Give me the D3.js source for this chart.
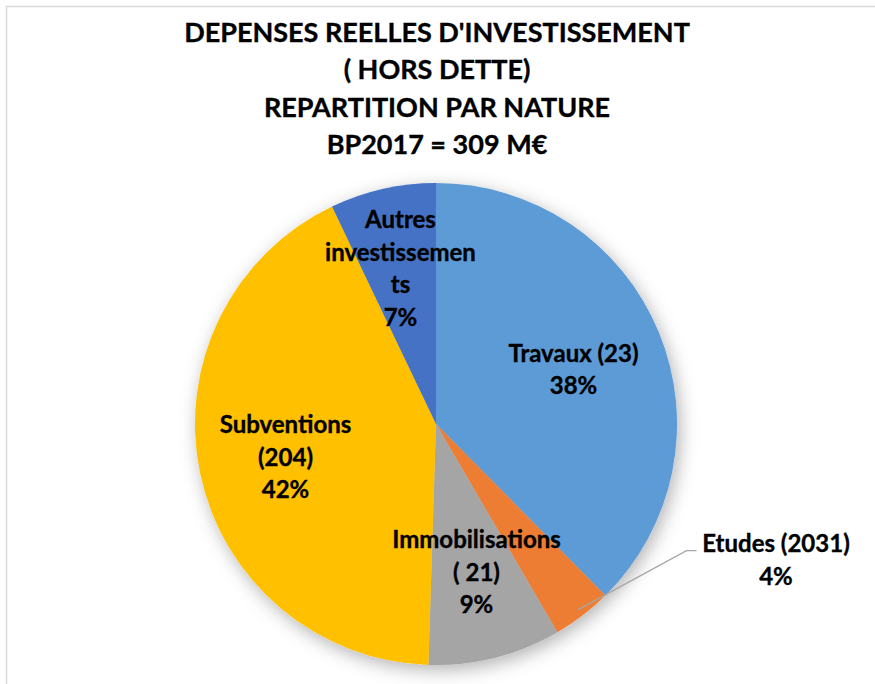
<!DOCTYPE html>
<html>
<head>
<meta charset="utf-8">
<script src="https://cdn.jsdelivr.net/npm/d3@7"></script>
<style>
  body { margin: 0; background: #fff; }
  text { font-family: Lato, "Open Sans", sans-serif; font-weight: bold; fill: #000; stroke: #000; stroke-width: 0.35px; }
</style>
</head>
<body>
<div id="chart"></div>
<script>
// data
const categories = ["Travaux", "Etudes", "Immobilisations", "Subventions", "Autres investissements"];
const shares = [37.6, 4.0, 8.9, 42.4, 7.1];
const labelLines = [
    ["Travaux (23)", "38%"],
    ["Etudes (2031)", "4%"],
    ["Immobilisations", "( 21)", "9%"],
    ["Subventions", "(204)", "42%"],
    ["Autres", "investissemen", "ts", "7%"]
];
const colors = ["#5B9BD5", "#ED7D31", "#A5A5A5", "#FFC000", "#4472C4"];
const titleLines = ["DEPENSES REELLES D'INVESTISSEMENT", "( HORS DETTE)", "REPARTITION PAR NATURE", "BP2017 = 309 M€"];

const width = 875;
const height = 684;
const cx = 436, cy = 424, radius = 241;

const svg = d3.select("#chart")
    .append("svg")
    .attr("width", width).attr("height", height);

// chart frame (runs off right/bottom)
svg.append("rect")
    .attr("x", 6.5).attr("y", 6.5)
    .attr("width", 900).attr("height", 700)
    .attr("fill", "#fff")
    .attr("stroke", "#d9d9d9").attr("stroke-width", 1.5);

const defs = svg.append("defs");
const shadow = defs.append("filter").attr("id", "shadow")
    .attr("x", "-20%").attr("y", "-20%").attr("width", "140%").attr("height", "140%");
shadow.append("feDropShadow")
    .attr("dx", 3).attr("dy", 5)
    .attr("stdDeviation", 9)
    .attr("flood-color", "#000").attr("flood-opacity", 0.3);

// title
svg.append("g").selectAll("text")
    .data(titleLines)
    .enter().append("text")
    .attr("x", 437)
    .attr("y", (d, i) => 41.5 + i * 37.6)
    .attr("text-anchor", "middle")
    .style("font-size", "27px")
    .text(d => d);

const pie = d3.pie().sort(null).value(d => d);
const arc = d3.arc().innerRadius(0).outerRadius(radius);
const arcs = pie(shares);

const g = svg.append("g").attr("transform", `translate(${cx},${cy})`);

g.append("g").attr("filter", "url(#shadow)")
    .selectAll("path")
    .data(arcs)
    .enter().append("path")
    .attr("d", arc)
    .attr("fill", (d, i) => colors[i]);

// label centre x and first baseline, relative to pie centre
const labelPos = [
    [137.5, -62.5],
    [340, 128.3],
    [40.5, 124.3],
    [-150.5, 9.3],
    [-35.5, -195.7]
];
const lineGap = 32.5;

// leader line for Etudes
const mid = (arcs[1].startAngle + arcs[1].endAngle) / 2;
const p0 = [Math.sin(mid) * radius * 0.97, -Math.cos(mid) * radius * 0.97];
g.append("polyline")
    .attr("points", [p0, [250.5, 126.7], [260.5, 126.7]].map(p => p.join(",")).join(" "))
    .attr("fill", "none")
    .attr("stroke", "#a6a6a6")
    .attr("stroke-width", 1.3);

labelLines.forEach((lines, i) => {
    const [lx, ly] = labelPos[i];
    g.append("g").selectAll("text")
        .data(lines)
        .enter().append("text")
        .attr("x", lx)
        .attr("y", (d, j) => ly + j * lineGap)
        .attr("text-anchor", "middle")
        .style("font-size", "24px")
        .text(d => d);
});
</script>
</body>
</html>
